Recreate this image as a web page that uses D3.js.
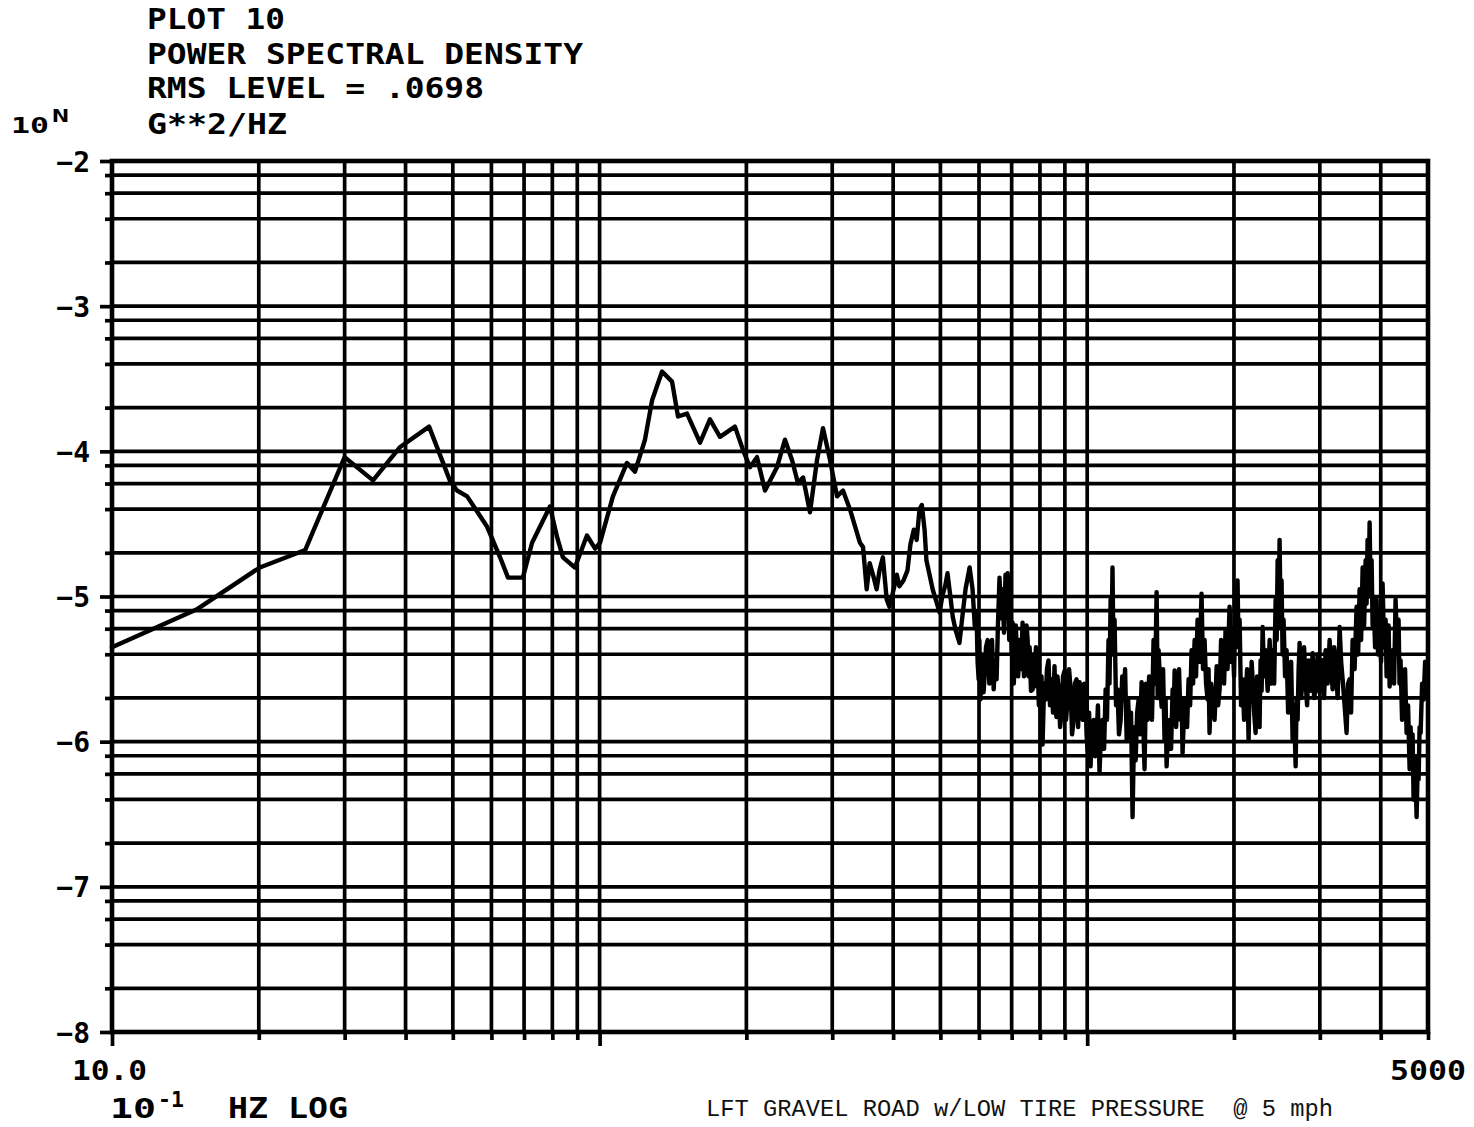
<!DOCTYPE html>
<html>
<head>
<meta charset="utf-8">
<script src="https://cdn.jsdelivr.net/npm/d3@7"></script>
<style>
  html, body { margin: 0; padding: 0; background: #fff; }
  svg { display: block; }
  .plotter { font-family: "DejaVu Sans Mono", monospace; font-weight: bold; fill: #000; }
  .typed { font-family: "Liberation Mono", "DejaVu Sans Mono", monospace; fill: #111; white-space: pre; }
</style>
</head>
<body>
<svg id="chart" width="1474" height="1127"></svg>
<script>
// ---- Header text ----
const titleLines = ["PLOT 10", "POWER SPECTRAL DENSITY", "RMS LEVEL = .0698", "G**2/HZ"];
const caption = "LFT GRAVEL ROAD w/LOW TIRE PRESSURE  @ 5 mph";

// ---- Axes ----
// frequency axis in units of 0.1 Hz, log decades
const freqDomain = [10, 5000];
const freqEndLabels = ["10.0", "5000"];
const freqMajor = [10, 100, 1000];
// PSD exponent axis: 10^N  g^2/Hz
const levelMajor = [-2, -3, -4, -5, -6, -7, -8];
const levelMinorMultipliers = [2, 4, 6, 8];

// ---- PSD trace: [frequency (0.1 Hz), log10 PSD] ----
const psdLow = [
  [10.0,-5.35],[14.9,-5.09],[20.1,-4.80],[24.9,-4.68],[30.0,-4.04],[34.3,-4.20],[39.0,-3.97],
  [44.7,-3.83],[49.3,-4.20],[51.0,-4.27],[53.5,-4.31],[58.8,-4.52],[62.5,-4.73],[64.9,-4.87],
  [69.6,-4.87],[72.7,-4.63],[79.1,-4.38],[81.8,-4.59],[84.1,-4.73],[89.0,-4.80],[94.2,-4.58],
  [97.9,-4.67],[100.2,-4.63]
];
const psdMid = [
  [106.5,-4.31],[113.8,-4.08],[118.2,-4.14],[123.9,-3.92],[128.1,-3.65],[134.3,-3.45],[140.8,-3.52],
  [144.8,-3.76],[151.1,-3.74],[160.7,-3.94],[168.4,-3.78],[176.6,-3.90],[189.5,-3.83],[196.8,-3.99],
  [203.4,-4.11],[210.3,-4.04],[218.4,-4.27],[231.1,-4.11],[240.0,-3.92],[248.1,-4.06],[255.2,-4.22],
  [261.4,-4.18],[270.1,-4.42],[279.2,-4.06],[287.2,-3.84],[296.9,-4.06],[306.9,-4.31],[315.6,-4.27],
  [326.2,-4.40],[342.0,-4.63]
];
const psdUpper = [
  [347,-4.66],[353,-4.95],[358,-4.77],[365,-4.87],[370,-4.95],[375,-4.82],[381,-4.73],[388,-5.02],
  [393,-5.07],[401,-4.95],[407,-4.85],[412,-4.93],[420,-4.89],[428,-4.82],[434,-4.64],[441,-4.54],
  [447,-4.61],[453,-4.40],[458,-4.37],[464,-4.54],[468,-4.75],[475,-4.85],[482,-4.95],[489,-5.02],
  [498,-5.11],[505,-4.99],[512,-4.92],[517,-4.84],[525,-5.02],[530,-5.14],[537,-5.23],[547,-5.32],
  [555,-5.13],[563,-4.95],[574,-4.80],[582,-4.95],[588,-5.20],[593,-5.11],[596,-5.45],[599,-5.57],
  [601,-5.30],[604,-5.71],[607,-5.40],[610,-5.44],[613,-5.66],[616,-5.55],[620,-5.35],[625,-5.30],
  [630,-5.60],[634,-5.44],[638,-5.30],[643,-5.64],[647,-5.45],[652,-5.57],[656,-5.20],[661,-4.87],
  [666,-5.15],[671,-4.95],[675,-5.25],[680,-4.85],[684,-5.10],[687,-4.84],[692,-5.30],[696,-5.02],
  [700,-5.40],[703,-5.18],[707,-5.60],[710,-5.48],[714,-5.20],[717,-5.37],[722,-5.55],[727,-5.30],
  [732,-5.50],[737,-5.18],[742,-5.55],[748,-5.44],[751,-5.20],[755,-5.30],[758,-5.55],[762,-5.35],
  [767,-5.65],[773,-5.64],[776,-5.40],[780,-5.62],[785,-5.35],[791,-5.44],[796,-5.75],[802,-5.71],
  [806,-5.55],[810,-6.02],[816,-5.60],[822,-5.71],[827,-5.50],[833,-5.44],[839,-5.75],[845,-5.57],
  [851,-5.80],[857,-5.48],[861,-5.75],[865,-5.83],[869,-5.55],[874,-5.64],[880,-5.90],[886,-5.80],
  [892,-5.55],[899,-5.51],[905,-5.85],[912,-5.71],[918,-5.50],[925,-5.64],[931,-5.95],[938,-5.85],
  [944,-5.60],[951,-5.57],[958,-5.90],[965,-5.59],[972,-5.75],[979,-5.85],[986,-5.60],[993,-5.71],
  [997,-5.95]
];
const psdHigh = [
  [1002,-6.06],[1009,-5.80],[1016,-6.17],[1023,-5.90],[1031,-5.85],[1038,-6.10],[1045,-5.99],[1052,-5.75],
  [1060,-6.21],[1067,-5.95],[1075,-5.85],[1083,-6.05],[1091,-5.64],[1098,-5.85],[1106,-5.30],[1111,-5.60],
  [1117,-5.02],[1122,-5.30],[1127,-4.80],[1132,-5.40],[1138,-5.16],[1146,-5.75],[1154,-5.64],[1162,-5.95],
  [1171,-5.85],[1180,-5.55],[1188,-5.71],[1196,-5.50],[1205,-5.99],[1213,-5.70],[1222,-5.97],[1230,-5.80],
  [1239,-6.52],[1248,-5.90],[1257,-6.13],[1266,-5.80],[1275,-5.71],[1284,-5.95],[1293,-5.59],[1302,-5.80],
  [1311,-6.19],[1320,-5.60],[1330,-5.85],[1340,-5.55],[1349,-5.64],[1358,-5.85],[1368,-5.30],[1378,-5.60],
  [1388,-4.97],[1395,-5.70],[1401,-5.37],[1411,-5.60],[1421,-5.76],[1431,-5.50],[1441,-5.99],[1448,-5.70],
  [1455,-6.17],[1466,-5.90],[1476,-5.85],[1486,-6.05],[1497,-5.64],[1504,-5.85],[1511,-5.51],[1522,-5.90],
  [1532,-5.71],[1543,-5.50],[1554,-5.85],[1562,-5.70],[1569,-6.08],[1580,-5.80],[1592,-5.71],[1603,-5.90],
  [1614,-5.57],[1626,-5.75],[1637,-5.37],[1649,-5.60],[1661,-5.30],[1672,-5.55],[1684,-5.16],[1700,-5.45],
  [1716,-4.98],[1728,-5.50],[1741,-5.30],[1753,-5.60],[1766,-5.71],[1774,-5.50],[1782,-5.94],[1795,-5.60],
  [1808,-5.71],[1825,-5.85],[1843,-5.48],[1856,-5.75],[1869,-5.64],[1882,-5.30],[1896,-5.37],[1909,-5.60],
  [1922,-5.23],[1940,-5.50],[1959,-5.07],[1973,-5.45],[1987,-5.30],[2001,-5.55],[2015,-5.02],[2024,-5.30],
  [2034,-4.89],[2044,-5.35],[2054,-5.16],[2068,-5.75],[2083,-5.57],[2098,-5.85],[2113,-5.71],[2128,-5.50],
  [2143,-5.99],[2153,-5.60],[2163,-5.71],[2174,-5.45],[2184,-5.57],[2200,-5.80],[2215,-5.94],[2231,-5.55],
  [2247,-5.71],[2257,-5.90],[2268,-5.44],[2279,-5.65],[2290,-5.21],[2306,-5.55],[2322,-5.37],[2345,-5.65],
  [2367,-5.30],[2384,-5.60],[2400,-5.37],[2418,-5.60],[2435,-5.02],[2447,-5.30],[2458,-4.75],[2470,-5.10],
  [2481,-4.61],[2493,-5.20],[2504,-4.89],[2516,-5.40],[2528,-5.16],[2546,-5.55],[2564,-5.37],[2583,-5.80],
  [2601,-5.71],[2620,-5.45],[2638,-5.99],[2657,-5.75],[2676,-6.17],[2688,-5.70],[2701,-5.85],[2714,-5.50],
  [2727,-5.32],[2746,-5.70],[2766,-5.57],[2785,-5.35],[2805,-5.59],[2825,-5.75],[2845,-5.44],[2872,-5.65],
  [2900,-5.39],[2920,-5.70],[2941,-5.64],[2969,-5.40],[2997,-5.66],[3018,-5.45],[3040,-5.44],[3061,-5.70],
  [3083,-5.37],[3112,-5.60],[3142,-5.30],[3165,-5.50],[3187,-5.64],[3210,-5.35],[3232,-5.44],[3263,-5.70],
  [3294,-5.21],[3318,-5.45],[3341,-5.57],[3372,-5.75],[3404,-5.94],[3428,-5.60],[3452,-5.57],[3477,-5.80],
  [3502,-5.30],[3535,-5.50],[3569,-5.07],[3595,-5.40],[3620,-4.95],[3646,-5.30],[3672,-4.80],[3698,-5.20],
  [3724,-4.75],[3741,-5.05],[3759,-4.61],[3777,-5.00],[3795,-4.49],[3813,-4.95],[3831,-4.75],[3849,-5.20],
  [3867,-5.02],[3895,-5.35],[3922,-5.02],[3950,-5.40],[3979,-5.23],[4007,-5.45],[4035,-4.91],[4064,-5.35],
  [4093,-5.16],[4112,-5.55],[4131,-5.44],[4151,-5.20],[4171,-5.62],[4200,-5.45],[4230,-5.37],[4260,-5.60],
  [4290,-5.02],[4320,-5.35],[4351,-5.16],[4371,-5.60],[4392,-5.44],[4424,-5.85],[4456,-5.71],[4487,-5.50],
  [4519,-5.94],[4551,-5.75],[4584,-6.19],[4605,-5.90],[4627,-6.12],[4649,-5.95],[4671,-6.40],[4704,-6.10],
  [4738,-6.52],[4760,-6.20],[4783,-6.26],[4806,-5.90],[4829,-5.94],[4863,-5.60],[4897,-5.71],[4932,-5.45],
  [4967,-5.51]
];
const psd = psdLow.concat(psdMid, psdUpper, psdHigh);

(function draw() {
  // ---- Layout ----
  const plotL = 112, plotR = 1428, plotT = 161, plotB = 1032;
  const svg = d3.select("#chart");

  const x = d3.scaleLog().domain(freqDomain).range([plotL, plotR]);
  const y = d3.scaleLinear().domain([levelMajor[0], levelMajor[levelMajor.length - 1]]).range([plotT, plotB]);

  // minor level lines at 2,4,6,8 x 10^N inside each decade
  const levelMinor = [];
  levelMajor.slice(1).forEach(n => levelMinorMultipliers.forEach(m => levelMinor.push(n + Math.log10(m))));

  const freqLines = x.ticks();            // 10,20,...,90,100,...,5000
  const freqMinor = freqLines.filter(f => !freqMajor.includes(f));

  const ink = "#000";
  const gridW = 3.7;
  const g = svg.append("g");

  // grid
  g.append("g").selectAll("line")
    .data(levelMajor.concat(levelMinor))
    .join("line")
    .attr("x1", plotL).attr("x2", plotR)
    .attr("y1", d => y(d)).attr("y2", d => y(d))
    .attr("stroke", ink).attr("stroke-width", gridW);

  g.append("g").selectAll("line")
    .data(freqLines)
    .join("line")
    .attr("x1", d => x(d)).attr("x2", d => x(d))
    .attr("y1", plotT).attr("y2", plotB)
    .attr("stroke", ink).attr("stroke-width", gridW);

  // tick stubs outside the frame
  function styleAxis(sel) {
    sel.select(".domain").remove();
    sel.selectAll(".tick line").attr("stroke", ink).attr("stroke-width", gridW);
  }
  const axY = g.append("g").attr("transform", `translate(${plotL},0)`)
    .call(d3.axisLeft(y).tickValues(levelMajor).tickSize(12).tickPadding(10).tickFormat(d => d3.format("d")(d)));
  styleAxis(axY);
  axY.selectAll(".tick text").attr("class", "plotter").style("font-size", "28px").attr("dy", "0.36em");

  const axYm = g.append("g").attr("transform", `translate(${plotL},0)`)
    .call(d3.axisLeft(y).tickValues(levelMinor).tickSize(7).tickFormat(""));
  styleAxis(axYm);

  const axXM = g.append("g").attr("transform", `translate(0,${plotB})`)
    .call(d3.axisBottom(x).tickValues(freqMajor).tickSize(14).tickFormat(""));
  styleAxis(axXM);
  const axXm = g.append("g").attr("transform", `translate(0,${plotB})`)
    .call(d3.axisBottom(x).tickValues(freqMinor).tickSize(8).tickFormat(""));
  styleAxis(axXm);

  // frame
  g.append("rect")
    .attr("x", plotL).attr("y", plotT)
    .attr("width", plotR - plotL).attr("height", plotB - plotT)
    .attr("fill", "none").attr("stroke", ink).attr("stroke-width", 4.6);

  // PSD trace
  const line = d3.line().x(d => x(d[0])).y(d => y(d[1]));
  g.append("path")
    .datum(psd)
    .attr("d", line)
    .attr("fill", "none")
    .attr("stroke", ink)
    .attr("stroke-width", 4.4)
    .attr("stroke-linejoin", "round")
    .attr("stroke-linecap", "round");

  // header block
  const headerBase = [29, 64, 98, 134];
  const headerLen = [138, 436, 337, 140];
  titleLines.forEach((t, i) => {
    svg.append("text").attr("class", "plotter")
      .attr("x", 147).attr("y", headerBase[i])
      .attr("textLength", headerLen[i]).attr("lengthAdjust", "spacingAndGlyphs")
      .style("font-size", "29px").text(t);
  });

  // 10^N unit marker
  svg.append("text").attr("class", "plotter").attr("x", 11).attr("y", 133)
    .attr("textLength", 38).attr("lengthAdjust", "spacingAndGlyphs")
    .style("font-size", "21px").text("10");
  svg.append("text").attr("class", "plotter").attr("x", 52).attr("y", 122)
    .attr("textLength", 17).attr("lengthAdjust", "spacingAndGlyphs")
    .style("font-size", "18px").text("N");

  // frequency end labels
  svg.append("text").attr("class", "plotter").attr("x", x(freqDomain[0]) - 40).attr("y", 1080)
    .attr("textLength", 75).attr("lengthAdjust", "spacingAndGlyphs")
    .style("font-size", "27px").text(freqEndLabels[0]);
  svg.append("text").attr("class", "plotter").attr("x", x(freqDomain[1]) - 38).attr("y", 1080)
    .attr("textLength", 76).attr("lengthAdjust", "spacingAndGlyphs")
    .style("font-size", "27px").text(freqEndLabels[1]);

  // unit line: 10^-1  HZ LOG
  svg.append("text").attr("class", "plotter").attr("x", 110).attr("y", 1118)
    .attr("textLength", 46).attr("lengthAdjust", "spacingAndGlyphs")
    .style("font-size", "26px").text("10");
  svg.append("text").attr("class", "plotter").attr("x", 158).attr("y", 1107)
    .attr("textLength", 26).attr("lengthAdjust", "spacingAndGlyphs")
    .style("font-size", "21px").text("-1");
  svg.append("text").attr("class", "plotter").attr("x", 228).attr("y", 1118)
    .attr("textLength", 120).attr("lengthAdjust", "spacingAndGlyphs")
    .style("font-size", "28px").text("HZ LOG");

  // caption
  svg.append("text").attr("class", "typed").attr("x", 706).attr("y", 1116)
    .attr("textLength", 627).attr("lengthAdjust", "spacingAndGlyphs")
    .style("font-size", "23px").text(caption);
})();
</script>
</body>
</html>
